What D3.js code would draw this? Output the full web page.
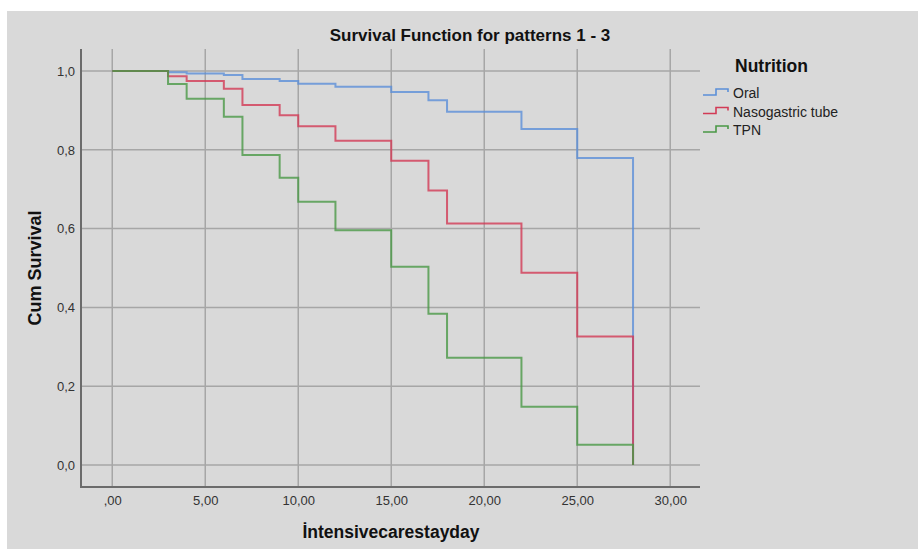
<!DOCTYPE html>
<html>
<head>
<meta charset="utf-8">
<script src="https://cdn.jsdelivr.net/npm/d3@7"></script>
<style>
  html, body { margin: 0; padding: 0; background: #fff; }
  svg { display: block; font-family: "Liberation Sans", Arial, sans-serif; }
</style>
</head>
<body>
<svg id="chart" width="918" height="549"></svg>
<script>
/* Kaplan-Meier step curves, SPSS look. */

// days where a step happens (last one drops to 0)
const days = [0, 3, 4, 6, 7, 9, 10, 12, 15, 17, 18, 22, 25, 28];
const oral = [1, 0.997, 0.994, 0.99, 0.98, 0.975, 0.968, 0.96, 0.947, 0.926, 0.897, 0.853, 0.779, 0];
const nasogastric = [1, 0.987, 0.975, 0.955, 0.914, 0.888, 0.86, 0.823, 0.772, 0.697, 0.613, 0.488, 0.326, 0];
const tpn = [1, 0.967, 0.93, 0.884, 0.787, 0.729, 0.668, 0.596, 0.503, 0.384, 0.272, 0.148, 0.051, 0];

const seriesNames = ['Oral', 'Nasogastric tube', 'TPN'];
const seriesColors = ['#5b8fd8', '#d23a55', '#4a9846'];
const seriesValues = [oral, nasogastric, tpn];

const xTicks = [0, 5, 10, 15, 20, 25, 30];
const xTickLabels = [',00', '5,00', '10,00', '15,00', '20,00', '25,00', '30,00'];
const yTicks = [0, 0.2, 0.4, 0.6, 0.8, 1.0];
const yTickLabels = ['0,0', '0,2', '0,4', '0,6', '0,8', '1,0'];

const svg = d3.select('#chart');

// gray panel
svg.append('rect')
  .attr('x', 7).attr('y', 11)
  .attr('width', 911).attr('height', 538)
  .attr('fill', '#d9d9d9');

const plot = { left: 81, right: 700, top: 49, bottom: 487 };

const x = d3.scaleLinear().domain([-1.68, 31.6]).range([plot.left, plot.right]);
const y = d3.scaleLinear().domain([-0.056, 1.056]).range([plot.bottom, plot.top]);

// grid
const grid = svg.append('g');
grid.selectAll('line.vg').data(xTicks).join('line')
  .attr('class', 'vg')
  .attr('x1', d => x(d)).attr('x2', d => x(d))
  .attr('y1', plot.top).attr('y2', plot.bottom)
  .attr('stroke', '#a6a6a6').attr('stroke-width', 1.5);
grid.selectAll('line.hg').data(yTicks).join('line')
  .attr('class', 'hg')
  .attr('x1', plot.left).attr('x2', plot.right)
  .attr('y1', d => y(d)).attr('y2', d => y(d))
  .attr('stroke', '#a6a6a6').attr('stroke-width', 1.5);

// axes (no tick marks, just labels)
const xAxis = svg.append('g')
  .attr('transform', `translate(0,${plot.bottom})`)
  .call(d3.axisBottom(x).tickValues(xTicks).tickSize(0).tickPadding(9)
    .tickFormat((d, i) => xTickLabels[i]));
const yAxis = svg.append('g')
  .attr('transform', `translate(${plot.left},0)`)
  .call(d3.axisLeft(y).tickValues(yTicks).tickSize(0).tickPadding(6)
    .tickFormat((d, i) => yTickLabels[i]));

[xAxis, yAxis].forEach(g => {
  g.select('.domain').attr('stroke', '#6b6b6b').attr('stroke-width', 2);
  g.selectAll('text')
    .attr('fill', '#333')
    .style('font-size', '13px')
    .style('font-family', '"Liberation Sans", Arial, sans-serif');
});
// join the two axis lines at the corner
xAxis.select('.domain').attr('d', `M${plot.left},0H${plot.right}`);
yAxis.select('.domain').attr('d', `M0,${plot.top}V${plot.bottom + 1}`);

// survival curves
const line = d3.line()
  .x(d => x(d[0]))
  .y(d => y(d[1]))
  .curve(d3.curveStepAfter);

const curves = svg.append('g');
seriesValues.forEach((vals, k) => {
  curves.append('path')
    .datum(days.map((d, i) => [d, vals[i]]))
    .attr('d', line)
    .attr('fill', 'none')
    .attr('stroke', seriesColors[k])
    .attr('stroke-width', 2)
    .attr('stroke-opacity', 0.8);
});

// title and axis labels
svg.append('text')
  .attr('x', 470).attr('y', 41)
  .attr('text-anchor', 'middle')
  .style('font-size', '17px').style('font-weight', 'bold')
  .attr('fill', '#111')
  .text('Survival Function for patterns 1 - 3');

svg.append('text')
  .attr('transform', 'translate(41,268) rotate(-90)')
  .attr('text-anchor', 'middle')
  .style('font-size', '18px').style('font-weight', 'bold')
  .attr('fill', '#111')
  .text('Cum Survival');

svg.append('text')
  .attr('x', 391).attr('y', 538)
  .attr('text-anchor', 'middle')
  .style('font-size', '17.5px').style('font-weight', 'bold')
  .attr('fill', '#111')
  .text('İntensivecarestayday');

// legend
const legend = svg.append('g');
legend.append('text')
  .attr('x', 735).attr('y', 72)
  .style('font-size', '17.5px').style('font-weight', 'bold')
  .attr('fill', '#111')
  .text('Nutrition');

const rowY = d3.scaleLinear().domain([0, 1]).range([93, 111.5]);
seriesNames.forEach((name, k) => {
  const cy = rowY(k);
  legend.append('path')
    .attr('d', `M703,${cy + 2}H716V${cy - 4}H728V${cy - 1}`)
    .attr('fill', 'none')
    .attr('stroke', seriesColors[k])
    .attr('stroke-width', 1.6);
  legend.append('text')
    .attr('x', 733).attr('y', cy + 5)
    .style('font-size', '14px')
    .attr('fill', '#222')
    .text(name);
});
</script>
</body>
</html>
